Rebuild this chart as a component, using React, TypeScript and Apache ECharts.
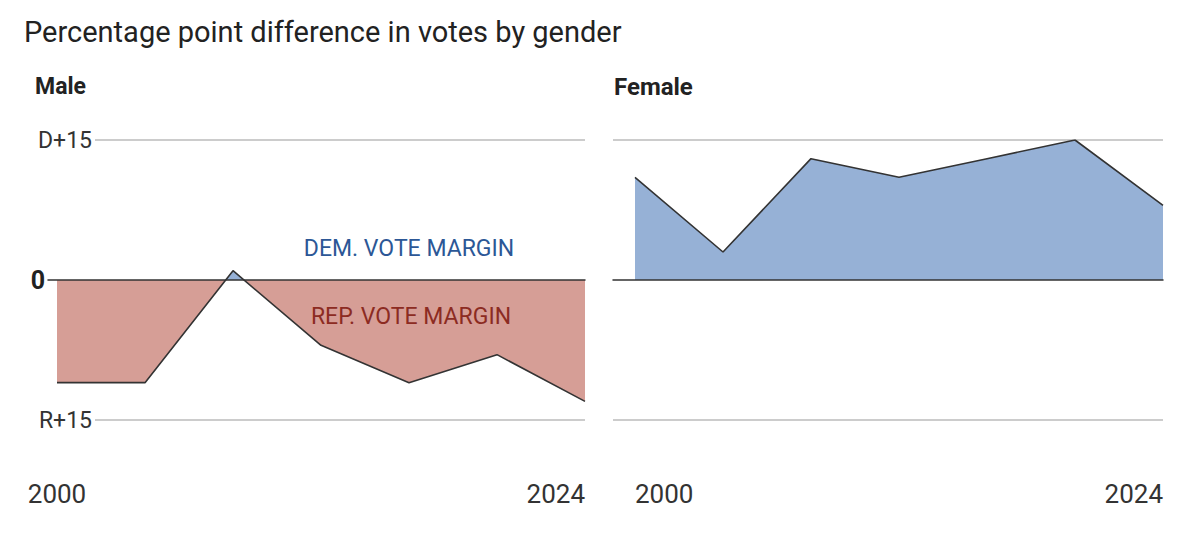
import React, { useEffect, useRef } from "react";
import * as echarts from "echarts";

const years = [2000, 2004, 2008, 2012, 2016, 2020, 2024];
const maleMargin = [-11, -11, 1, -7, -11, -8, -13];
const femaleMargin = [11, 3, 13, 11, 13, 15, 8];
const yTickLabels: Record<string, string> = { "15": "D+15", "0": "0", "-15": "R+15" };

const FONT = "Roboto";
const RED = "#d69e96";
const BLUE = "#96b1d6";
const Y_MIN = -15;
const Y_MAX = 15;

export default function App() {
  const ref = useRef<HTMLDivElement>(null);
  useEffect(() => {
    document.body.style.margin = "0";
    const chart = echarts.init(ref.current!, null, { renderer: "svg" });
    const male = years.map((y, i) => [y, maleMargin[i]]);
    const female = years.map((y, i) => [y, femaleMargin[i]]);
    const top = 140;
    const height = 280;
    const zeroOffset = Y_MAX / (Y_MAX - Y_MIN);
    const splitFill = new echarts.graphic.LinearGradient(
      0,
      top,
      0,
      top + height,
      [
        { offset: 0, color: BLUE },
        { offset: zeroOffset, color: BLUE },
        { offset: zeroOffset, color: RED },
        { offset: 1, color: RED },
      ],
      true
    );
    const hidden = {
      axisLine: { show: false },
      axisTick: { show: false },
      axisLabel: { show: false },
      splitLine: { show: false },
    };
    const yBase = { type: "value", min: Y_MIN, max: Y_MAX, interval: 15 };
    const frameX = (g: number) => ({
      gridIndex: g,
      type: "value",
      min: 0,
      max: 1,
      z: 5,
      ...hidden,
    });
    const zeroX = (g: number) => ({
      ...frameX(g),
      axisLine: { show: true, onZero: true, lineStyle: { color: "#333", width: 1.5 } },
    });
    const gridY = (g: number, labels: boolean) => ({
      gridIndex: g,
      ...yBase,
      axisLine: { show: false },
      axisTick: { show: false },
      splitLine: {
        show: true,
        lineStyle: { color: ["#bbb", "rgba(0,0,0,0)", "#bbb"], width: 1.5 },
      },
      axisLabel: {
        show: labels,
        margin: 3,
        fontSize: 23,
        color: "#333",
        fontFamily: FONT,
        formatter: (v: number) => (v === 0 ? "" : yTickLabels[String(v)]),
      },
    });
    const dataX = (g: number, minAlign: string) => ({
      gridIndex: g,
      type: "value",
      min: 2000,
      max: 2024,
      interval: 24,
      axisLine: { show: false, onZero: false },
      axisTick: { show: false },
      splitLine: { show: false },
      axisLabel: {
        show: true,
        margin: 61,
        fontSize: 26,
        color: "#333",
        fontFamily: FONT,
        alignMinLabel: minAlign,
        alignMaxLabel: "right",
        formatter: (v: number) => String(v),
      },
    });
    const option: any = {
      animation: false,
      grid: [
        { left: 95, width: 585 - 95, top, height },
        { left: 48, width: 585 - 48, top, height },
        { left: 57, width: 528, top, height },
        { left: 613, width: 1163 - 613, top, height },
        { left: 635, width: 528, top, height },
      ],
      xAxis: [frameX(0), zeroX(1), dataX(2, "center"), zeroX(3), dataX(4, "left")],
      yAxis: [
        gridY(0, true),
        {
          gridIndex: 1,
          ...yBase,
          axisLine: { show: false },
          axisTick: { show: false },
          splitLine: { show: false },
          axisLabel: {
            margin: 3,
            fontSize: 25,
            fontWeight: "bold",
            color: "#222",
            fontFamily: FONT,
            formatter: (v: number) => (v === 0 ? yTickLabels["0"] : ""),
          },
        },
        { gridIndex: 2, ...yBase, show: false },
        gridY(3, false),
        { gridIndex: 4, ...yBase, show: false },
      ],
      series: [
        {
          type: "line",
          xAxisIndex: 2,
          yAxisIndex: 2,
          data: male,
          symbol: "none",
          lineStyle: { width: 0 },
          areaStyle: { origin: 0, opacity: 1, color: splitFill },
          z: 2,
        },
        {
          type: "line",
          xAxisIndex: 2,
          yAxisIndex: 2,
          data: male,
          symbol: "none",
          lineStyle: { color: "#333", width: 1.6 },
          z: 3,
        },
        {
          type: "line",
          xAxisIndex: 4,
          yAxisIndex: 4,
          data: female,
          symbol: "none",
          lineStyle: { width: 0 },
          areaStyle: { origin: 0, opacity: 1, color: splitFill },
          z: 2,
        },
        {
          type: "line",
          xAxisIndex: 4,
          yAxisIndex: 4,
          data: female,
          symbol: "none",
          lineStyle: { color: "#333", width: 1.6 },
          z: 3,
        },
      ],
      graphic: [
        {
          type: "text",
          left: 24,
          top: 17,
          z: 10,
          style: {
            text: "Percentage point difference in votes by gender",
            fontSize: 29,
            fontFamily: FONT,
            fill: "#222",
          },
        },
        {
          type: "text",
          left: 35,
          top: 75,
          z: 10,
          style: { text: "Male", fontSize: 23, fontWeight: "bold", fontFamily: FONT, fill: "#222" },
        },
        {
          type: "text",
          left: 614,
          top: 75,
          z: 10,
          style: { text: "Female", fontSize: 24, fontWeight: "bold", fontFamily: FONT, fill: "#222" },
        },
        {
          type: "text",
          x: 409,
          y: 248,
          z: 10,
          style: {
            text: "DEM. VOTE MARGIN",
            fontSize: 23,
            fontFamily: FONT,
            fill: "#2c5796",
            align: "center",
            verticalAlign: "middle",
          },
        },
        {
          type: "text",
          x: 411,
          y: 316,
          z: 10,
          style: {
            text: "REP. VOTE MARGIN",
            fontSize: 23,
            fontFamily: FONT,
            fill: "#8c2b22",
            align: "center",
            verticalAlign: "middle",
          },
        },
      ],
    };
    chart.setOption(option);
    return () => chart.dispose();
  }, []);
  return <div ref={ref} style={{ width: 1200, height: 540, background: "#fff" }} />;
}
